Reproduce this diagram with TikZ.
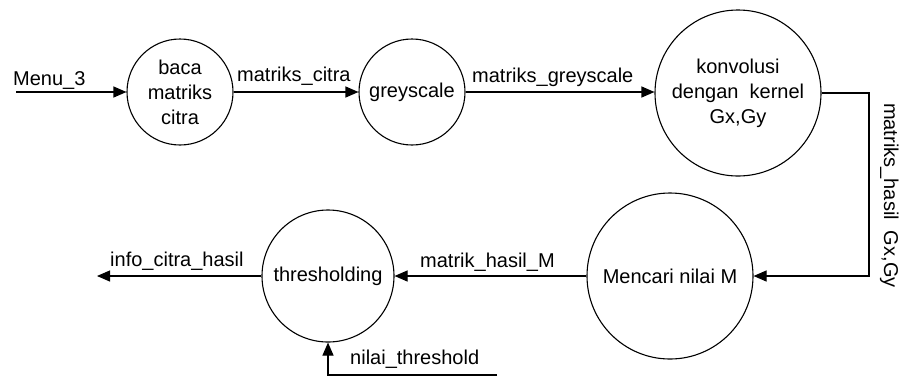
\documentclass[tikz,border=0pt]{standalone}
\usepackage{fontspec}
\setmainfont{Liberation Sans}
\usetikzlibrary{arrows.meta}
\tikzset{
  proc/.style={draw, circle, line width=1.1pt, inner sep=0pt, align=center,
    font=\fontsize{20}{25}\selectfont},
  lbl/.style={inner sep=0pt, font=\fontsize{20}{24}\selectfont},
  flow/.style={line width=1.1pt, -{Triangle[length=13pt,width=11pt]}},
  plain/.style={line width=1.1pt}
}
\begin{document}
\begin{tikzpicture}[x=1pt,y=-1pt]
\useasboundingbox (0,0) rectangle (899,376);
% processes
\node[proc, minimum size=106pt] (c1) at (180,92) {baca\\matriks\\citra};
\node[proc, minimum size=106pt] (c2) at (412,92) {greyscale};
\node[proc, minimum size=166pt] (c3) at (738,93) {konvolusi\\dengan\ \ kernel\\Gx,Gy};
\node[proc, minimum size=166pt] (c4) at (670,276) {Mencari\ nilai\ M};
\node[proc, minimum size=132pt] (c5) at (328,276) {thresholding};
% free ends
\coordinate (in) at (16,92);
\coordinate (out) at (97,276);
\coordinate (cr) at (869,185);
\coordinate (thr) at (497,375);
% connectors
\draw[flow] (in) -- (c1.west);
\draw[flow] (c1.east) -- (c2.west);
\draw[flow] (c2.east) -- (c2.east -| c3.west);
\draw[flow] (c3.east) -| (cr) |- (c4.east);
\draw[flow] (c4.west) -- (c5.east);
\draw[flow] (c5.west) -- (out);
\draw[flow] (thr) -| (c5.south);
% labels
\node[lbl, anchor=base west] (lmenu) at (13,85) {Menu\_3};
\node[lbl, anchor=base west] (lcitra) at (237,81) {matriks\_citra};
\node[lbl, anchor=base west] (lgrey) at (472,82) {matriks\_greyscale};
\node[lbl, anchor=base west, rotate=-90] (lhasil) at (884,103) {matriks\_hasil\ \ Gx,Gy};
\node[lbl, anchor=base west] (lm) at (420,267) {matrik\_hasil\_M};
\node[lbl, anchor=base west] (linfo) at (110,266) {info\_citra\_hasil};
\node[lbl, anchor=base west] (lthr) at (350,364) {nilai\_threshold};
\end{tikzpicture}
\end{document}
